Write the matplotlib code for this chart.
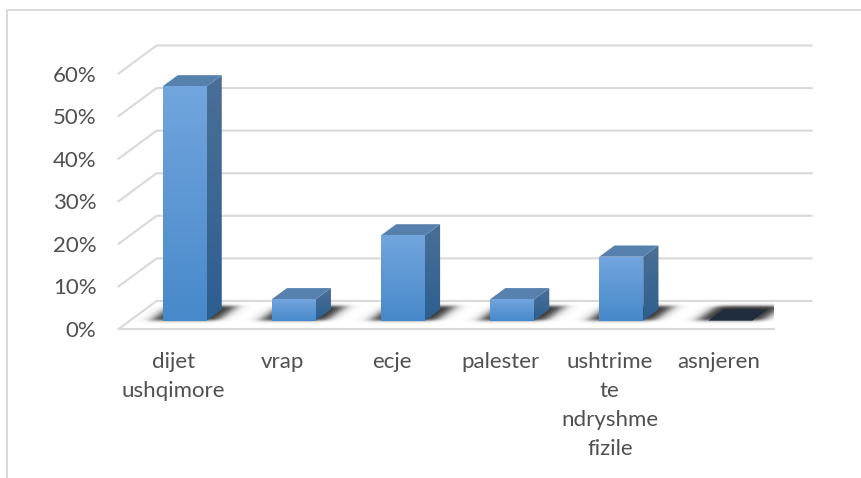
import numpy as np
import matplotlib
matplotlib.use('Agg')
from matplotlib import pyplot as plt
from matplotlib.lines import Line2D
from matplotlib.patches import Polygon

categories = ['dijet\nushqimore', 'vrap', 'ecje', 'palester',
              'ushtrime\nte\nndryshme\nfizile', 'asnjeren']
values = [55, 5, 20, 5, 15, 0]
y_ticks = [0, 10, 20, 30, 40, 50, 60]

WIDTH, HEIGHT = 861, 478
GRID = '#d9d9d9'
# how far one unit of depth moves a point, in data units
DEPTH_X = 0.348
DEPTH_Y = 6.58
BAR_WIDTH = 0.403
BAR_FRONT = 0.3
BAR_BACK = 0.7


def project(x, y, depth):
    return x + depth * DEPTH_X, y + depth * DEPTH_Y


def gradient_poly(ax, corners, top_color, bottom_color, zorder):
    """Fill a polygon with a vertical gradient, clipped with the polygon itself."""
    poly = Polygon(corners, closed=True, facecolor='none', edgecolor='none',
                   transform=ax.transData, zorder=zorder)
    ax.add_patch(poly)
    top = np.array(matplotlib.colors.to_rgb(top_color))
    bottom = np.array(matplotlib.colors.to_rgb(bottom_color))
    t = np.linspace(0, 1, 64)[:, None, None]
    img = top[None, None, :] * (1 - t) + bottom[None, None, :] * t
    xs = [c[0] for c in corners]
    ys = [c[1] for c in corners]
    im = ax.imshow(img, extent=(min(xs), max(xs), min(ys), max(ys)),
                   aspect='auto', origin='upper', zorder=zorder,
                   interpolation='bilinear')
    im.set_clip_path(poly)


def floor_shadow(ax, x):
    """Soft sheared shadow lying on the floor around a bar foot."""
    x0, y0 = project(x - BAR_WIDTH / 2, 0, BAR_FRONT)
    x1, _ = project(x + BAR_WIDTH / 2, 0, BAR_FRONT)
    _, y1 = project(x, 0, BAR_BACK)
    pad_x, pad_y = 0.36, 1.6
    xs = np.linspace(x0 - pad_x, x1 + pad_x + 0.16, 200)
    ys = np.linspace(y0 - pad_y, y1 + pad_y, 80)
    gx, gy = np.meshgrid(xs, ys)
    shear = gx - (gy - y0) * (DEPTH_X / DEPTH_Y)
    soft_x, soft_y = 0.07, 0.4
    margin_x = 0.1
    part_x = (np.tanh((shear - x0 + margin_x) / soft_x) - np.tanh((shear - x1 - margin_x) / soft_x)) / 2
    part_y = (np.tanh((gy - y0 + 0.1) / soft_y) - np.tanh((gy - y1 - 0.7) / soft_y)) / 2
    rgba = np.zeros(gx.shape + (4,))
    rgba[..., :3] = 0.15
    rgba[..., 3] = np.clip(part_x * part_y, 0, 1) * 0.95
    ax.imshow(rgba, extent=(xs[0], xs[-1], ys[0], ys[-1]), origin='lower',
              aspect='auto', zorder=3, interpolation='bilinear')


def draw_bar(ax, x, value):
    left, right = x - BAR_WIDTH / 2, x + BAR_WIDTH / 2
    floor_shadow(ax, x)
    if value == 0:
        corners = [project(left, 0, BAR_FRONT), project(right, 0, BAR_FRONT),
                   project(right, 0, BAR_BACK), project(left, 0, BAR_BACK)]
        ax.add_patch(Polygon(corners, closed=True, facecolor='#1f2d3f',
                             edgecolor='none', zorder=4))
        return
    side = [project(right, 0, BAR_FRONT), project(right, value, BAR_FRONT),
            project(right, value, BAR_BACK), project(right, 0, BAR_BACK)]
    top = [project(left, value, BAR_FRONT), project(right, value, BAR_FRONT),
           project(right, value, BAR_BACK), project(left, value, BAR_BACK)]
    front = [project(left, 0, BAR_FRONT), project(right, 0, BAR_FRONT),
             project(right, value, BAR_FRONT), project(left, value, BAR_FRONT)]
    gradient_poly(ax, side, '#4b6f97', '#2c5f8f', 4)
    ax.add_patch(Polygon(top, closed=True, facecolor='#5680ad',
                         edgecolor='none', zorder=5))
    gradient_poly(ax, front, '#72a5dd', '#4789ca', 6)


plt.rcParams['font.family'] = ['Lato', 'DejaVu Sans']

fig = plt.figure(figsize=(WIDTH / 100, HEIGHT / 100), dpi=100)
fig.patch.set_facecolor('white')

# chart area border, only the top and left edges show
fig.add_artist(Line2D([7 / WIDTH, 7 / WIDTH, 1], [0, 1 - 9.5 / HEIGHT, 1 - 9.5 / HEIGHT],
                      color=GRID, lw=1.4, transform=fig.transFigure))

ax = fig.add_axes([118.6 / WIDTH, 1 - 329 / HEIGHT, 655 / WIDTH, 255.5 / HEIGHT])
ax.set_facecolor('none')
for spine in ax.spines.values():
    spine.set_visible(False)

positions = np.arange(len(categories))

# back wall gridlines and the diagonals running onto the floor
for tick in y_ticks:
    (x0, y0), (x1, y1) = project(-0.5, tick, 0), project(-0.5, tick, 1)
    x2, _ = project(positions[-1] + 0.5, tick, 1)
    ax.plot([x0, x1, x2], [y0, y1, y1], color=GRID, lw=1.5, clip_on=False,
            solid_joinstyle='miter', zorder=1)
ax.plot([-0.5, positions[-1] + 0.5], [0, 0], color=GRID, lw=1.5, clip_on=False, zorder=1)

for x, value in zip(positions, values):
    draw_bar(ax, x, value)

ax.set_xlim(-0.5, positions[-1] + 0.5)
ax.set_ylim(0, 60)
ax.set_xticks(positions)
ax.set_xticklabels(categories, linespacing=1.56)
ax.set_yticks(y_ticks)
ax.set_yticklabels(['{}%'.format(t) for t in y_ticks])
ax.tick_params(axis='both', length=0, labelsize=16, labelcolor='#505050')
ax.tick_params(axis='x', pad=16.5)
ax.tick_params(axis='y', pad=16)

fig.savefig('out.png', dpi=100)
